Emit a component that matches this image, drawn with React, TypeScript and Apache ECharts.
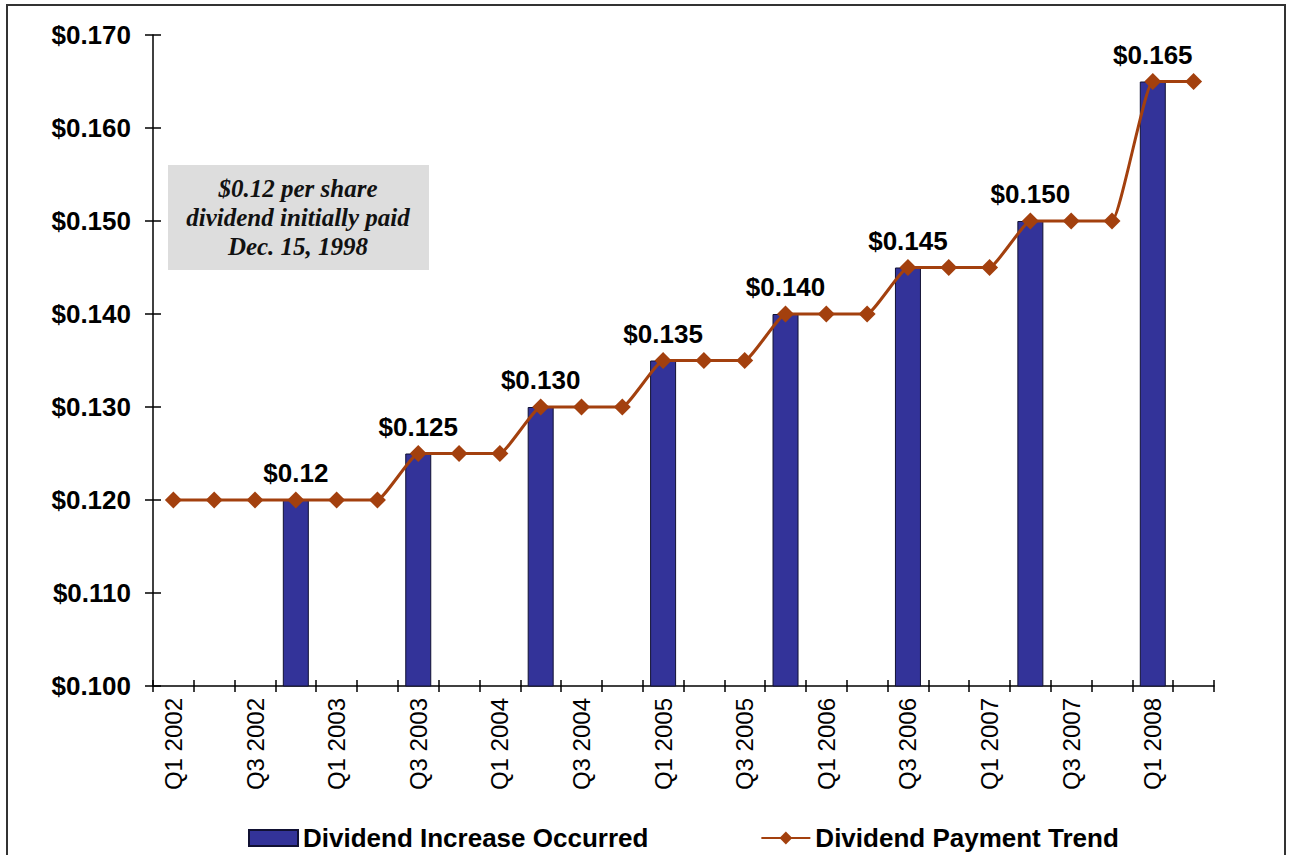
import React, { useEffect, useRef } from "react";
import * as echarts from "echarts";

const categories = [
  "Q1 2002", "Q2 2002", "Q3 2002", "Q4 2002",
  "Q1 2003", "Q2 2003", "Q3 2003", "Q4 2003",
  "Q1 2004", "Q2 2004", "Q3 2004", "Q4 2004",
  "Q1 2005", "Q2 2005", "Q3 2005", "Q4 2005",
  "Q1 2006", "Q2 2006", "Q3 2006", "Q4 2006",
  "Q1 2007", "Q2 2007", "Q3 2007", "Q4 2007",
  "Q1 2008", "Q2 2008",
];

const trendValues = [
  0.12, 0.12, 0.12, 0.12, 0.12, 0.12,
  0.125, 0.125, 0.125,
  0.13, 0.13, 0.13,
  0.135, 0.135, 0.135,
  0.14, 0.14, 0.14,
  0.145, 0.145, 0.145,
  0.15, 0.15, 0.15,
  0.165, 0.165,
];

const increaseValues = [
  null, null, null, 0.12, null, null,
  0.125, null, null,
  0.13, null, null,
  0.135, null, null,
  0.14, null, null,
  0.145, null, null,
  0.15, null, null,
  0.165, null,
];

const increaseLabels = [
  "", "", "", "$0.12", "", "",
  "$0.125", "", "",
  "$0.130", "", "",
  "$0.135", "", "",
  "$0.140", "", "",
  "$0.145", "", "",
  "$0.150", "", "",
  "$0.165", "",
];

const seriesNames = ["Dividend Increase Occurred", "Dividend Payment Trend"];
const noteText = "$0.12 per share\ndividend initially paid\nDec. 15, 1998";

const FONT = "'Liberation Sans', Arial, sans-serif";
const BAR_COLOR = "#333399";
const LINE_COLOR = "#A3400E";

export default function App() {
  const ref = useRef<HTMLDivElement>(null);

  useEffect(() => {
    if (!ref.current) return;
    const chart = echarts.init(ref.current, null, { renderer: "svg" });
    chart.setOption({
      animation: false,
      backgroundColor: "#ffffff",
      grid: { left: 153, right: 75, top: 35, bottom: 169, containLabel: false },
      legend: {
        data: [
          { name: seriesNames[0], icon: "rect" },
          { name: seriesNames[1] },
        ],
        left: 243,
        top: 820,
        itemWidth: 49,
        itemHeight: 16,
        itemGap: 112,
        textStyle: { fontFamily: FONT, fontSize: 26, fontWeight: "bold", color: "#000" },
      },
      xAxis: [
        {
          type: "category",
          data: categories,
          boundaryGap: true,
          position: "bottom",
          axisLine: { show: true, lineStyle: { color: "#000", width: 1.5 } },
          axisTick: { show: true, interval: 0, length: 6, lineStyle: { color: "#000", width: 1.5 } },
          axisLabel: {
            interval: 1,
            rotate: 90,
            margin: 12,
            fontFamily: FONT,
            fontSize: 24,
            color: "#000",
          },
          splitLine: { show: false },
        },
        {
          type: "category",
          data: categories,
          boundaryGap: true,
          position: "bottom",
          axisLine: { show: false },
          axisTick: { show: true, inside: true, interval: 0, length: 6, lineStyle: { color: "#000", width: 1.5 } },
          axisLabel: { show: false },
          splitLine: { show: false },
        },
      ],
      yAxis: [
        {
          type: "value",
          min: 0.1,
          max: 0.17,
          interval: 0.01,
          position: "left",
          axisLine: { show: true, lineStyle: { color: "#000", width: 1.5 } },
          axisTick: { show: true, length: 8, lineStyle: { color: "#000", width: 1.5 } },
          axisLabel: {
            margin: 22,
            fontFamily: FONT,
            fontSize: 26,
            fontWeight: "bold",
            color: "#000",
            formatter: (v: number) => "$" + v.toFixed(3),
          },
          splitLine: { show: false },
        },
        {
          type: "value",
          min: 0.1,
          max: 0.17,
          interval: 0.01,
          position: "left",
          axisLine: { show: false },
          axisTick: { show: true, inside: true, length: 8, lineStyle: { color: "#000", width: 1.5 } },
          axisLabel: { show: false },
          splitLine: { show: false },
        },
      ],
      series: [
        {
          name: seriesNames[0],
          type: "bar",
          data: increaseValues,
          barWidth: 26,
          itemStyle: { color: BAR_COLOR, borderColor: "#111133", borderWidth: 1 },
          label: {
            show: true,
            position: "top",
            distance: 14,
            fontFamily: FONT,
            fontSize: 26,
            fontWeight: "bold",
            color: "#000",
            formatter: (p: any) => increaseLabels[p.dataIndex],
          },
          z: 2,
        },
        {
          name: seriesNames[1],
          type: "line",
          data: trendValues,
          smooth: 0.12,
          symbol: "diamond",
          symbolSize: 17,
          itemStyle: { color: LINE_COLOR },
          lineStyle: { color: LINE_COLOR, width: 3 },
          z: 3,
        },
      ],
      graphic: [
        {
          type: "rect",
          shape: { x: 7, y: 5, width: 1278, height: 900 },
          style: { fill: "none", stroke: "#333", lineWidth: 2 },
          silent: true,
          z: -1,
        },
        {
          type: "rect",
          shape: { x: 168, y: 165, width: 261, height: 105 },
          style: { fill: "#DDDDDD" },
          z: 10,
        },
        {
          type: "text",
          x: 298,
          y: 217,
          z: 11,
          style: {
            text: noteText,
            fill: "#111",
            font: "italic bold 25px 'Liberation Serif', 'Times New Roman', serif",
            textAlign: "center",
            textVerticalAlign: "middle",
            lineHeight: 29,
          },
        },
      ],
    });
    return () => chart.dispose();
  }, []);

  return (
    <div
      ref={ref}
      style={{ position: "absolute", left: 0, top: 0, width: 1289, height: 855 }}
    />
  );
}
